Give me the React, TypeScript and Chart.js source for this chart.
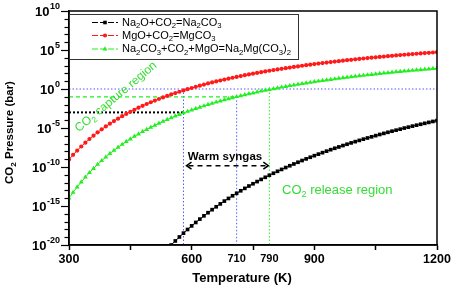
import React, { useEffect, useRef } from 'react';
import { Chart, registerables } from 'chart.js';

Chart.register(...registerables);

// ---- data ----
const temperatures = [
  300, 310, 320, 330, 340, 350, 360, 370, 380, 390, 400, 410, 420, 430, 440, 450, 460, 470, 480, 490,
  500, 510, 520, 530, 540, 550, 560, 570, 580, 590, 600, 610, 620, 630, 640, 650, 660, 670, 680, 690,
  700, 710, 720, 730, 740, 750, 760, 770, 780, 790, 800, 810, 820, 830, 840, 850, 860, 870, 880, 890,
  900, 910, 920, 930, 940, 950, 960, 970, 980, 990, 1000, 1010, 1020, 1030, 1040, 1050, 1060, 1070, 1080, 1090,
  1100, 1110, 1120, 1130, 1140, 1150, 1160, 1170, 1180, 1190, 1200,
];

// log10 of CO2 pressure (bar)
const na2oLogP: (number | null)[] = [
  null, null, null, null, null, null, null, null, null, null, null, null, null, null, null, null, null, null, null, null,
  null, null, null, null, null, -20.0, -19.48, -18.97, -18.48, -18.01, -17.55, -17.11, -16.68, -16.26, -15.86, -15.47, -15.1, -14.73, -14.37, -14.03,
  -13.69, -13.37, -13.05, -12.74, -12.44, -12.15, -11.87, -11.59, -11.32, -11.06, -10.8, -10.55, -10.31, -10.07, -9.84, -9.61, -9.39, -9.17, -8.96, -8.75,
  -8.55, -8.35, -8.16, -7.97, -7.78, -7.6, -7.43, -7.25, -7.08, -6.91, -6.75, -6.59, -6.43, -6.28, -6.13, -5.98, -5.83, -5.69, -5.55, -5.41,
  -5.28, -5.15, -5.01, -4.89, -4.76, -4.64, -4.52, -4.4, -4.28, -4.16, -4.05,
];

const mgoLogP = [
  -9.03, -8.44, -7.89, -7.37, -6.88, -6.41, -5.98, -5.56, -5.17, -4.8, -4.45, -4.11, -3.8, -3.49, -3.2, -2.92, -2.66, -2.4, -2.16, -1.92,
  -1.7, -1.48, -1.28, -1.08, -0.89, -0.7, -0.52, -0.35, -0.18, -0.02, 0.13, 0.28, 0.43, 0.57, 0.71, 0.84, 0.97, 1.09, 1.21, 1.33,
  1.44, 1.55, 1.66, 1.77, 1.87, 1.97, 2.06, 2.16, 2.25, 2.34, 2.43, 2.51, 2.59, 2.67, 2.75, 2.83, 2.9, 2.98, 3.05, 3.12,
  3.19, 3.26, 3.32, 3.39, 3.45, 3.51, 3.57, 3.63, 3.69, 3.74, 3.8, 3.85, 3.91, 3.96, 4.01, 4.06, 4.11, 4.16, 4.21, 4.25,
  4.3, 4.35, 4.39, 4.43, 4.48, 4.52, 4.56, 4.6, 4.64, 4.68, 4.72,
];

const doubleLogP = [
  -14.0, -13.26, -12.57, -11.92, -11.31, -10.73, -10.19, -9.67, -9.19, -8.73, -8.29, -7.88, -7.48, -7.11, -6.75, -6.41, -6.08, -5.77, -5.47, -5.19,
  -4.91, -4.65, -4.4, -4.16, -3.92, -3.7, -3.48, -3.27, -3.07, -2.88, -2.69, -2.51, -2.34, -2.17, -2.0, -1.85, -1.69, -1.54, -1.4, -1.26,
  -1.13, -0.99, -0.87, -0.74, -0.62, -0.51, -0.39, -0.28, -0.17, -0.07, 0.03, 0.13, 0.23, 0.32, 0.42, 0.5, 0.59, 0.68, 0.76, 0.84,
  0.92, 1.0, 1.07, 1.15, 1.22, 1.29, 1.36, 1.43, 1.49, 1.56, 1.62, 1.68, 1.74, 1.8, 1.86, 1.92, 1.97, 2.03, 2.08, 2.13,
  2.19, 2.24, 2.29, 2.33, 2.38, 2.43, 2.47, 2.52, 2.56, 2.61, 2.65,
];

const xTickValues = [300, 450, 600, 710, 750, 790, 900, 1050, 1200];
const xTickLabels: Record<number, string> = { 300: '300', 600: '600', 710: '710', 790: '790', 900: '900', 1200: '1200' };
const yMajorExponents = [10, 5, 0, -5, -10, -15, -20];

// annotation values
const captureTemp = 580;
const syngasTemp = 710;
const releaseTemp = 790;
const unitPressure = 1;
const captureLevel = 1e-3;
const syngasLevel = 1e-1;

const BLACK = '#000000';
const RED = '#ff1a1a';
const GREEN = '#22ee22';
const TEXT_GREEN = '#33dd33';
const BLUE = '#5a5aff';
const FONT = '"Liberation Sans", Arial, sans-serif';

type Part = [string, number]; // 0 normal, 1 subscript, 2 superscript

function drawRich(
  ctx: CanvasRenderingContext2D, x: number, y: number, parts: Part[], size: number,
  weight: string, color: string, align: 'left' | 'center' | 'right'
) {
  const small = size * 0.7;
  let w = 0;
  for (const [t, k] of parts) {
    ctx.font = `${weight} ${k ? small : size}px ${FONT}`;
    w += ctx.measureText(t).width;
  }
  let cx = align === 'left' ? x : align === 'center' ? x - w / 2 : x - w;
  ctx.fillStyle = color;
  ctx.textBaseline = 'middle';
  ctx.textAlign = 'left';
  for (const [t, k] of parts) {
    ctx.font = `${weight} ${k ? small : size}px ${FONT}`;
    const dy = k === 1 ? size * 0.32 : k === 2 ? -size * 0.38 : 0;
    ctx.fillText(t, cx, y + dy);
    cx += ctx.measureText(t).width;
  }
}

const legendItems: { color: string; style: string; parts: Part[] }[] = [
  { color: BLACK, style: 'rect', parts: [['Na', 0], ['2', 1], ['O+CO', 0], ['2', 1], ['=Na', 0], ['2', 1], ['CO', 0], ['3', 1]] },
  { color: RED, style: 'circle', parts: [['MgO+CO', 0], ['2', 1], ['=MgCO', 0], ['3', 1]] },
  {
    color: GREEN, style: 'triangle',
    parts: [['Na', 0], ['2', 1], ['CO', 0], ['3', 1], ['+CO', 0], ['2', 1], ['+MgO=Na', 0], ['2', 1], ['Mg(CO', 0], ['3', 1], [')', 0], ['2', 1]],
  },
];

function drawMarker(ctx: CanvasRenderingContext2D, style: string, x: number, y: number, color: string) {
  ctx.fillStyle = color;
  ctx.beginPath();
  if (style === 'rect') ctx.rect(x - 1.8, y - 1.8, 3.6, 3.6);
  else if (style === 'circle') ctx.arc(x, y, 2.1, 0, Math.PI * 2);
  else {
    ctx.moveTo(x, y - 2.7);
    ctx.lineTo(x + 2.5, y + 1.6);
    ctx.lineTo(x - 2.5, y + 1.6);
    ctx.closePath();
  }
  ctx.fill();
}

const annotationPlugin = {
  id: 'annotations',
  beforeDatasetsDraw(chart: any) {
    const { ctx } = chart;
    const xs = chart.scales.x;
    const ys = chart.scales.y;
    const X = (v: number) => xs.getPixelForValue(v);
    const Y = (v: number) => ys.getPixelForValue(v);
    const line = (x1: number, y1: number, x2: number, y2: number, color: string, width: number, dash: number[]) => {
      ctx.save();
      ctx.strokeStyle = color;
      ctx.lineWidth = width;
      ctx.setLineDash(dash);
      ctx.beginPath();
      ctx.moveTo(x1, y1);
      ctx.lineTo(x2, y2);
      ctx.stroke();
      ctx.restore();
    };
    const bottom = chart.chartArea.bottom;
    line(X(300), Y(unitPressure), X(1200), Y(unitPressure), BLUE, 1, [1.5, 2]);
    line(X(captureTemp), Y(unitPressure), X(captureTemp), bottom, BLUE, 1, [1.5, 2]);
    line(X(syngasTemp), Y(syngasLevel), X(syngasTemp), bottom, BLUE, 1, [1.5, 2]);
    line(X(300), Y(syngasLevel), X(syngasTemp), Y(syngasLevel), GREEN, 1.2, [4, 3]);
    line(X(releaseTemp), Y(unitPressure), X(releaseTemp), bottom, GREEN, 1, [1.5, 2]);
    line(X(300), Y(captureLevel), X(captureTemp), Y(captureLevel), BLACK, 2, [2, 2]);
  },
  afterDraw(chart: any) {
    const { ctx, chartArea } = chart;
    const xs = chart.scales.x;
    const ys = chart.scales.y;
    const X = (v: number) => xs.getPixelForValue(v);
    const Y = (v: number) => ys.getPixelForValue(v);
    ctx.save();

    // frame
    ctx.strokeStyle = BLACK;
    ctx.lineWidth = 1.5;
    ctx.strokeRect(chartArea.left, chartArea.top, chartArea.right - chartArea.left, chartArea.bottom - chartArea.top);

    // y ticks
    ctx.lineWidth = 1.2;
    for (let e = -20; e <= 10; e++) {
      const y = Math.round(Y(Math.pow(10, e))) + 0.5;
      const len = e % 5 === 0 ? 8 : 4.5;
      ctx.beginPath();
      ctx.moveTo(chartArea.left - len, y);
      ctx.lineTo(chartArea.left, y);
      ctx.stroke();
    }
    // y labels
    for (const e of yMajorExponents) {
      const y = Y(Math.pow(10, e));
      const exp = String(e);
      ctx.font = `bold 9px ${FONT}`;
      const ew = ctx.measureText(exp).width;
      const right = 60;
      ctx.fillStyle = BLACK;
      ctx.textBaseline = 'middle';
      ctx.textAlign = 'left';
      ctx.fillText(exp, right - ew, y - 4.5);
      ctx.font = `bold 13px ${FONT}`;
      const bw = ctx.measureText('10').width;
      ctx.fillText('10', right - ew - bw - 0.5, y + 1);
    }

    // legend
    const lx = chartArea.left;
    const ly = 14;
    ctx.fillStyle = '#ffffff';
    ctx.fillRect(lx, ly, 229, 45);
    ctx.strokeStyle = '#333333';
    ctx.lineWidth = 1;
    ctx.strokeRect(lx + 0.5, ly + 0.5, 229, 45);
    const rows = [22.5, 35.5, 49];
    legendItems.forEach((item, i) => {
      const y = rows[i];
      ctx.strokeStyle = item.color;
      ctx.lineWidth = 1;
      ctx.setLineDash([6, 2]);
      ctx.beginPath();
      ctx.moveTo(92, y);
      ctx.lineTo(118, y);
      ctx.stroke();
      ctx.setLineDash([]);
      drawMarker(ctx, item.style, 105, y, item.color);
      drawRich(ctx, 122, y, item.parts, 11, 'normal', BLACK, 'left');
    });

    // capture region label (rotated)
    ctx.save();
    ctx.translate(116, 97);
    ctx.rotate((-40 * Math.PI) / 180);
    drawRich(ctx, 0, 0, [['CO', 0], ['2', 1], [' capture region', 0]], 12, 'normal', TEXT_GREEN, 'center');
    ctx.restore();

    // release region label
    drawRich(ctx, 282, 190, [['CO', 0], ['2', 1], [' release region', 0]], 13, 'normal', TEXT_GREEN, 'left');

    // warm syngas
    drawRich(ctx, 225, 157, [['Warm syngas', 0]], 11.5, 'bold', BLACK, 'center');
    const ax1 = X(captureTemp) + 3;
    const ax2 = X(releaseTemp) - 1;
    const ay = 165.7;
    ctx.strokeStyle = BLACK;
    ctx.lineWidth = 1.5;
    ctx.setLineDash([5, 4]);
    ctx.beginPath();
    ctx.moveTo(ax1 + 2, ay);
    ctx.lineTo(ax2 - 2, ay);
    ctx.stroke();
    ctx.setLineDash([]);
    ctx.beginPath();
    ctx.moveTo(ax1 + 5, ay - 3.5);
    ctx.lineTo(ax1, ay);
    ctx.lineTo(ax1 + 5, ay + 3.5);
    ctx.moveTo(ax2 - 5, ay - 3.5);
    ctx.lineTo(ax2, ay);
    ctx.lineTo(ax2 - 5, ay + 3.5);
    ctx.stroke();

    // axis titles
    drawRich(ctx, 242, 278, [['Temperature (K)', 0]], 13, 'bold', BLACK, 'center');
    ctx.save();
    ctx.translate(10, 132.5);
    ctx.rotate(-Math.PI / 2);
    drawRich(ctx, 0, 0, [['CO', 0], ['2', 1], [' Pressure (bar)', 0]], 11.5, 'bold', BLACK, 'center');
    ctx.restore();

    ctx.restore();
  },
};

function toPoints(logs: (number | null)[]) {
  const pts: { x: number; y: number }[] = [];
  temperatures.forEach((t, i) => {
    const v = logs[i];
    if (v !== null && v !== undefined) pts.push({ x: t, y: Math.pow(10, v) });
  });
  return pts;
}

export default function App() {
  const canvasRef = useRef<HTMLCanvasElement | null>(null);

  useEffect(() => {
    if (!canvasRef.current) return;
    const chart = new Chart(canvasRef.current, {
      type: 'line',
      data: {
        datasets: [
          {
            label: 'Na2O+CO2=Na2CO3',
            data: toPoints(na2oLogP),
            borderColor: BLACK,
            backgroundColor: BLACK,
            borderWidth: 1,
            pointStyle: 'rect',
            pointRadius: 2.6,
            pointBorderWidth: 0,
          },
          {
            label: 'MgO+CO2=MgCO3',
            data: toPoints(mgoLogP),
            borderColor: RED,
            backgroundColor: RED,
            borderWidth: 1,
            pointStyle: 'circle',
            pointRadius: 2.1,
            pointBorderWidth: 0,
          },
          {
            label: 'Na2CO3+CO2+MgO=Na2Mg(CO3)2',
            data: toPoints(doubleLogP),
            borderColor: GREEN,
            backgroundColor: GREEN,
            borderWidth: 1,
            pointStyle: 'triangle',
            pointRadius: 2.8,
            pointBorderWidth: 0,
          },
        ],
      },
      options: {
        responsive: false,
        animation: false,
        devicePixelRatio: 1,
        layout: { padding: { left: 0, right: 17, top: 11, bottom: 0 } },
        plugins: { legend: { display: false }, tooltip: { enabled: false } },
        scales: {
          x: {
            type: 'linear',
            min: 300,
            max: 1200,
            afterBuildTicks: (s: any) => {
              s.ticks = xTickValues.map((v) => ({ value: v }));
            },
            afterFit: (s: any) => {
              s.height = 44;
            },
            ticks: {
              autoSkip: false,
              maxRotation: 0,
              minRotation: 0,
              padding: 2,
              color: BLACK,
              font: (c: any) => ({
                family: FONT,
                weight: 'bold',
                size: c.tick && (c.tick.value === 710 || c.tick.value === 790) ? 11 : 12.5,
              }),
              callback: (v: any) => xTickLabels[Number(v)] ?? '',
            },
            grid: {
              drawOnChartArea: false,
              drawTicks: true,
              tickLength: 5,
              tickWidth: 1.5,
              tickColor: (c: any) =>
                c.tick && (c.tick.value === 710 || c.tick.value === 790) ? 'rgba(0,0,0,0)' : BLACK,
            },
            border: { display: true, color: BLACK, width: 1.5 },
          },
          y: {
            type: 'logarithmic',
            min: 1e-20,
            max: 1e10,
            afterFit: (s: any) => {
              s.width = 69;
            },
            ticks: { display: false },
            grid: { display: false },
            border: { display: true, color: BLACK, width: 1.5 },
          },
        },
      },
      plugins: [annotationPlugin],
    } as any);
    return () => chart.destroy();
  }, []);

  return (
    <div style={{ position: 'absolute', left: 0, top: 0, width: 454, height: 289, background: '#fff' }}>
      <canvas ref={canvasRef} width={454} height={289} style={{ display: 'block' }} />
    </div>
  );
}
